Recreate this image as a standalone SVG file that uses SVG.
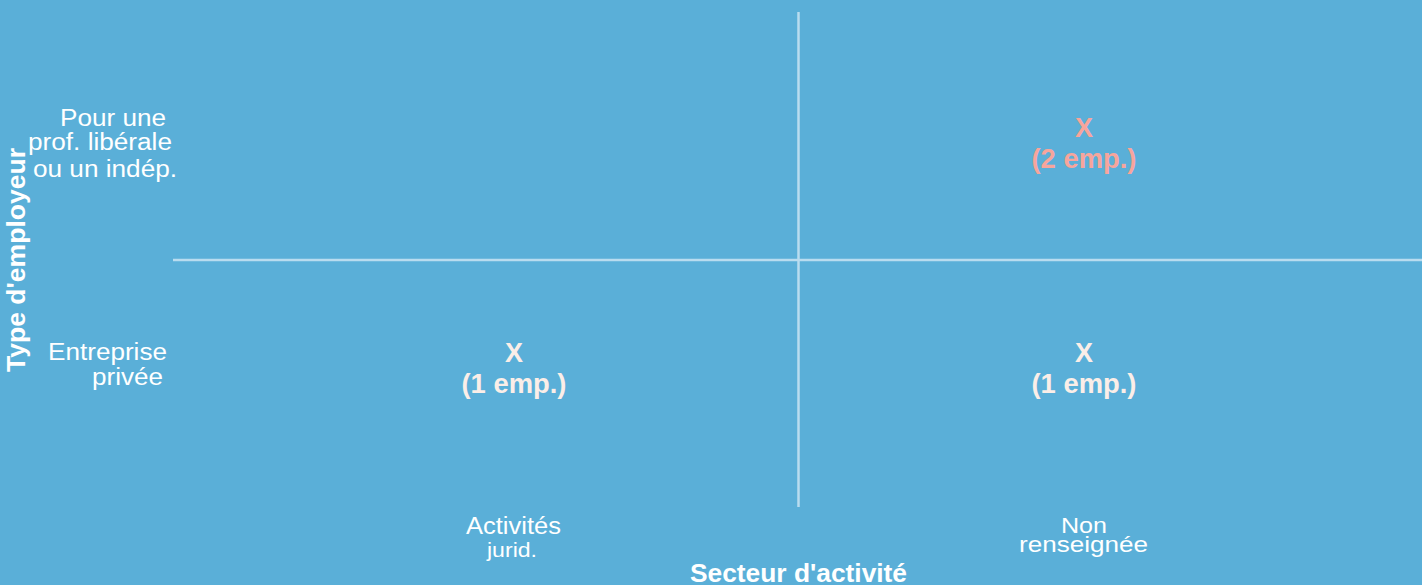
<svg xmlns="http://www.w3.org/2000/svg" width="1422" height="585" viewBox="0 0 1422 585">
<style>
.lbl{font-family:"Liberation Sans",Arial,sans-serif;font-size:23px;fill:#ffffff}
.ax{font-family:"Liberation Sans",Arial,sans-serif;font-size:25px;font-weight:bold;fill:#ffffff}
.val{font-family:"Liberation Sans",Arial,sans-serif;font-size:27px;font-weight:bold;fill:#fbeee8;text-anchor:middle}
.hi{fill:#f7a59c}
.grid{stroke:#b9dcef;stroke-width:2.5;fill:none}
</style>
<rect x="0" y="0" width="1422" height="585" fill="#5aafd8"/>
<g id="connectors">
<line class="grid" x1="798.5" y1="12" x2="798.5" y2="507"/>
<line class="grid" x1="173" y1="260" x2="1422" y2="260"/>
</g>
<g id="y-axis">
<text class="ax" transform="translate(25,260) rotate(-90)" text-anchor="middle" textLength="224" lengthAdjust="spacingAndGlyphs">Type d'employeur</text>
<text class="lbl" x="60" y="126" textLength="106" lengthAdjust="spacingAndGlyphs">Pour une</text>
<text class="lbl" x="28" y="150" textLength="144" lengthAdjust="spacingAndGlyphs">prof. libérale</text>
<text class="lbl" x="33" y="177" textLength="144" lengthAdjust="spacingAndGlyphs">ou un indép.</text>
<text class="lbl" x="48" y="360" textLength="119" lengthAdjust="spacingAndGlyphs">Entreprise</text>
<text class="lbl" x="92" y="385" textLength="71" lengthAdjust="spacingAndGlyphs">privée</text>
</g>
<g id="x-axis">
<text class="lbl" x="466" y="534" textLength="95" lengthAdjust="spacingAndGlyphs">Activités</text>
<text class="lbl" x="487" y="557" style="font-size:21px" textLength="50" lengthAdjust="spacingAndGlyphs">jurid.</text>
<text class="lbl" x="1061" y="533" style="font-size:22px" textLength="46" lengthAdjust="spacingAndGlyphs">Non</text>
<text class="lbl" x="1019" y="552" style="font-size:22px" textLength="129" lengthAdjust="spacingAndGlyphs">renseignée</text>
<text class="ax" x="690" y="582" textLength="217" lengthAdjust="spacingAndGlyphs">Secteur d'activité</text>
</g>
<g id="cell-prof-nonrens">
<text class="val hi" x="1084" y="137">X</text>
<text class="val hi" x="1084" y="168" textLength="105" lengthAdjust="spacingAndGlyphs">(2 emp.)</text>
</g>
<g id="cell-entreprise-jurid">
<text class="val" x="514" y="362">X</text>
<text class="val" x="514" y="393" textLength="105" lengthAdjust="spacingAndGlyphs">(1 emp.)</text>
</g>
<g id="cell-entreprise-nonrens">
<text class="val" x="1084" y="362">X</text>
<text class="val" x="1084" y="393" textLength="105" lengthAdjust="spacingAndGlyphs">(1 emp.)</text>
</g>
</svg>
